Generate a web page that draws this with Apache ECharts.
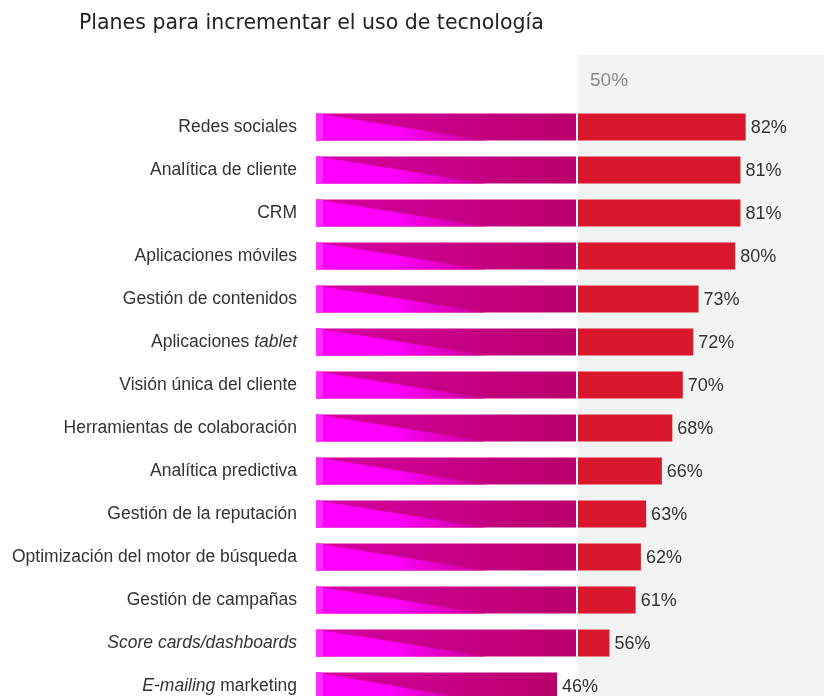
<!DOCTYPE html>
<html>
<head>
<meta charset="utf-8">
<script src="https://cdn.jsdelivr.net/npm/echarts@6/dist/echarts.min.js"></script>
<style>
  html, body { margin: 0; padding: 0; background: #fff; }
  #chart { width: 824px; height: 696px; }
</style>
</head>
<body>
<div id="chart"></div>
<script>
// data
var categories = [
  "Redes sociales",
  "Analítica de cliente",
  "CRM",
  "Aplicaciones móviles",
  "Gestión de contenidos",
  "Aplicaciones tablet",
  "Visión única del cliente",
  "Herramientas de colaboración",
  "Analítica predictiva",
  "Gestión de la reputación",
  "Optimización del motor de búsqueda",
  "Gestión de campañas",
  "Score cards/dashboards",
  "E-mailing marketing"
];
var values = [82, 81, 81, 80, 73, 72, 70, 68, 66, 63, 62, 61, 56, 46];
// parts of labels set in italics
var italicParts = {
  "Aplicaciones tablet": "tablet",
  "Score cards/dashboards": "Score cards/dashboards",
  "E-mailing marketing": "E-mailing"
};
var threshold = 50;

var chart = echarts.init(document.getElementById("chart"));

var seriesData = values.map(function (v, i) {
  return [i, v];
});

function renderBar(params, api) {
  var i = api.value(0);
  var v = api.value(1);
  var start = api.coord([0, i]);
  var mid = api.coord([Math.min(v, threshold), i]);
  var end = api.coord([v, i]);
  var h = 27;
  var y0 = start[1] - h / 2;
  var baseW = mid[0] - start[0] - (v > threshold ? 2 : 0);
  var triW = (mid[0] - start[0]) * 0.65;
  var children = [
    {
      type: "rect",
      shape: { x: start[0], y: y0, width: baseW, height: h },
      style: {
        fill: new echarts.graphic.LinearGradient(0, 0, 1, 0, [
          { offset: 0, color: "#d600a4" },
          { offset: 1, color: "#b9006b" }
        ])
      }
    },
    {
      type: "polygon",
      shape: {
        points: [
          [start[0], y0],
          [start[0], y0 + h],
          [start[0] + triW, y0 + h]
        ]
      },
      style: {
        fill: new echarts.graphic.LinearGradient(0, 0, 1, 0, [
          { offset: 0, color: "#ff00ff" },
          { offset: 0.45, color: "#ff00ff" },
          { offset: 1, color: "#c9008f" }
        ])
      }
    },
    {
      type: "rect",
      shape: { x: start[0], y: y0, width: 7, height: h },
      style: { fill: "#ff2cff" }
    }
  ];
  if (v > threshold) {
    children.push({
      type: "rect",
      shape: { x: mid[0], y: y0, width: end[0] - mid[0], height: h },
      style: { fill: "#d9182d" }
    });
  }
  children.push({
    type: "text",
    style: {
      x: end[0] + 5,
      y: start[1] + 1,
      text: v + "%",
      fill: "#333",
      font: '18px "Liberation Sans", Arial, sans-serif',
      verticalAlign: "middle",
      align: "left"
    }
  });
  return { type: "group", children: children };
}

chart.setOption({
  animation: false,
  title: {
    text: "Planes para incrementar el uso de tecnología",
    left: 74,
    top: 8,
    textStyle: {
      fontFamily: "DejaVu Sans",
      fontWeight: "normal",
      fontSize: 20.5,
      color: "#222"
    }
  },
  grid: {
    left: 316,
    top: 105.5,
    width: 524,
    height: 602,
    outerBoundsMode: "none",
    containLabel: false
  },
  xAxis: {
    type: "value",
    min: 0,
    max: 100,
    show: false
  },
  yAxis: {
    type: "category",
    inverse: true,
    data: categories,
    axisLine: { show: false },
    axisTick: { show: false },
    axisLabel: {
      margin: 19,
      fontSize: 17.5,
      fontFamily: "Liberation Sans",
      color: "#333",
      formatter: function (name) {
        var it = italicParts[name];
        if (!it) return name;
        var idx = name.indexOf(it);
        var before = name.slice(0, idx);
        var after = name.slice(idx + it.length);
        var out = "";
        if (before) out += "{n|" + before + "}";
        out += "{i|" + it + "}";
        if (after) out += "{n|" + after + "}";
        return out;
      },
      rich: {
        n: { fontSize: 17.5, fontFamily: "Liberation Sans", color: "#333" },
        i: { fontSize: 17.5, fontFamily: "Liberation Sans", fontStyle: "italic", color: "#333" }
      }
    }
  },
  series: [
    {
      type: "custom",
      renderItem: renderBar,
      data: seriesData,
      encode: { x: 1, y: 0 },
      clip: false,
      z: 5
    }
  ]
});

// shaded zone above the threshold
var x50 = chart.convertToPixel({ xAxisIndex: 0 }, threshold);
chart.setOption({
  graphic: [
    {
      type: "rect",
      z: -10,
      silent: true,
      shape: { x: x50, y: 55, width: 824 - x50, height: 696 - 55 },
      style: { fill: "#f2f3f3" }
    },
    {
      type: "text",
      z: -5,
      silent: true,
      style: {
        x: x50 + 12,
        y: 81,
        text: threshold + "%",
        fill: "#8a8a8a",
        font: '19px "Liberation Sans", Arial, sans-serif',
        verticalAlign: "middle"
      }
    }
  ]
});
</script>
</body>
</html>
